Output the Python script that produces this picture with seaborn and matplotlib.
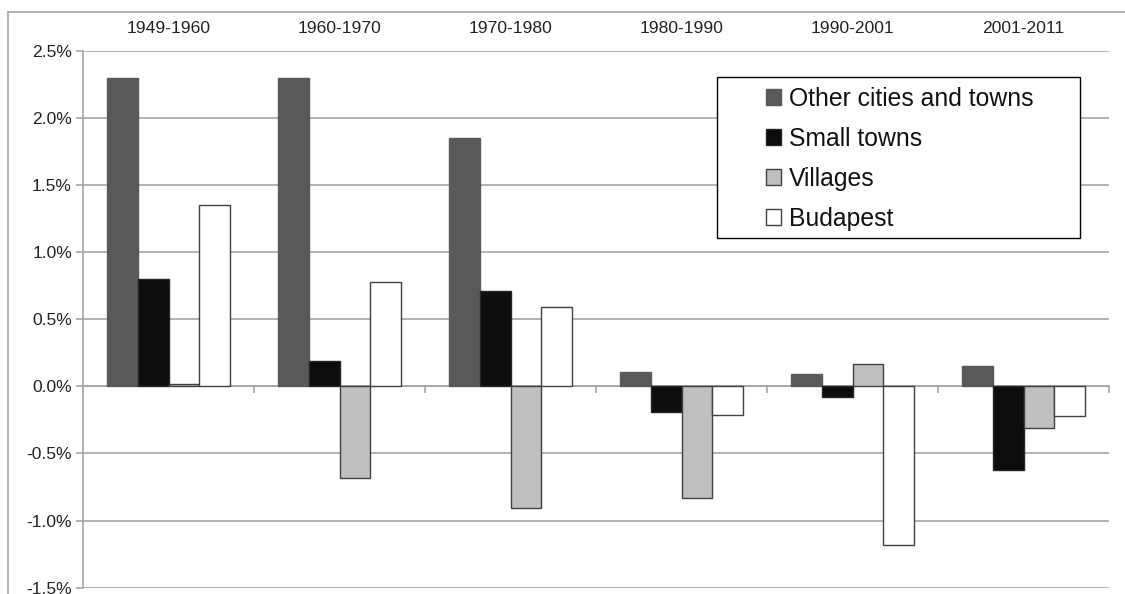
import pandas as pd
import matplotlib.pyplot as plt
import matplotlib.patches as mpatches
import matplotlib.lines as mlines
import seaborn as sns

# ==========================================
# DATA
# ==========================================
periods = ["1949-1960", "1960-1970", "1970-1980", "1980-1990", "1990-2001", "2001-2011"]
series_names = ["Other cities and towns", "Small towns", "Villages", "Budapest"]

other_cities = [2.30, 2.30, 1.85, 0.11, 0.09, 0.15]
small_towns = [0.80, 0.19, 0.71, -0.19, -0.08, -0.625]
villages = [0.02, -0.68, -0.91, -0.83, 0.17, -0.31]
budapest = [1.35, 0.78, 0.59, -0.21, -1.18, -0.22]

y_ticks = [-1.5, -1.0, -0.5, 0.0, 0.5, 1.0, 1.5, 2.0, 2.5]

colors = ["#595959", "#0d0d0d", "#bfbfbf", "#ffffff"]
edges = ["#595959", "#262626", "#404040", "#404040"]


def main():
    df = pd.DataFrame({
        "period": periods * 4,
        "serie": [s for s in series_names for _ in periods],
        "value": other_cities + small_towns + villages + budapest,
    })

    sns.set_theme(style="white")
    plt.rcParams["font.family"] = ["Liberation Sans", "DejaVu Sans"]

    fig = plt.figure(figsize=(11.25, 5.94), dpi=100)
    ax = fig.add_axes([83 / 1125, 1 - 587.7 / 594, 1026 / 1125, 537 / 594])

    sns.barplot(data=df, x="period", y="value", hue="serie", order=periods,
                hue_order=series_names, palette=colors, width=0.725,
                ax=ax, legend=False, zorder=3)

    for cont, ec in zip(ax.containers, edges):
        for bar in cont:
            bar.set_edgecolor(ec)
            bar.set_linewidth(1.0)

    # eixos
    ax.set_ylim(-1.5, 2.5)
    ax.set_xlim(-0.5, len(periods) - 0.5)
    ax.set_yticks(y_ticks)
    ax.set_yticklabels([f"{v:.1f}%" for v in y_ticks])
    ax.yaxis.grid(True, color="#a6a6a6", linewidth=1.2, zorder=0)
    ax.set_axisbelow(True)
    ax.set_xlabel("")
    ax.set_ylabel("")

    for s in ["top", "right"]:
        ax.spines[s].set_visible(False)
    ax.spines["left"].set_color("#a6a6a6")
    ax.spines["left"].set_linewidth(1.2)
    ax.spines["bottom"].set_position(("data", 0))
    ax.spines["bottom"].set_color("#a6a6a6")
    ax.spines["bottom"].set_linewidth(1.2)
    ax.spines["bottom"].set_zorder(2)

    ax.tick_params(axis="y", which="major", left=True, length=5, width=1.2,
                   color="#a6a6a6", labelsize=12.6, labelcolor="#222222", pad=3)
    # rótulos das categorias no topo
    ax.set_xticks(range(len(periods)))
    ax.set_xticklabels(periods)
    ax.tick_params(axis="x", which="major", bottom=False, top=False,
                   labelbottom=False, labeltop=True, labelsize=12.6,
                   labelcolor="#222222", pad=4.5)
    ax.set_xticks([i - 0.5 for i in range(len(periods) + 1)], minor=True)
    ax.tick_params(axis="x", which="minor", bottom=True, length=5, width=1.2,
                   color="#a6a6a6", direction="out")

    # legenda
    box = mpatches.Rectangle((0.618, 0.651), 0.354, 0.300, transform=ax.transAxes,
                             facecolor="white", edgecolor="black", linewidth=1.0,
                             zorder=5)
    ax.add_patch(box)
    handles = [mpatches.Patch(facecolor=c, edgecolor=e, linewidth=1.0)
               for c, e in zip(colors, edges)]
    leg = ax.legend(handles, series_names, loc="upper left",
                    bbox_to_anchor=(0.6657, 0.933), frameon=False,
                    fontsize=17.8, borderpad=0, borderaxespad=0,
                    handlelength=0.62, handleheight=0.62, handletextpad=0.3,
                    labelspacing=0.65)
    leg.set_zorder(6)
    for t in leg.get_texts():
        t.set_color("#111111")

    # moldura exterior (apenas topo e esquerda visíveis)
    fig.add_artist(mlines.Line2D([8 / 1125, 1.0], [1 - 12 / 594, 1 - 12 / 594],
                                 color="#a6a6a6", linewidth=1.2,
                                 transform=fig.transFigure))
    fig.add_artist(mlines.Line2D([8 / 1125, 8 / 1125], [0.0, 1 - 12 / 594],
                                 color="#a6a6a6", linewidth=1.2,
                                 transform=fig.transFigure))

    fig.savefig("out.png", dpi=100, facecolor="white")


if __name__ == "__main__":
    main()
